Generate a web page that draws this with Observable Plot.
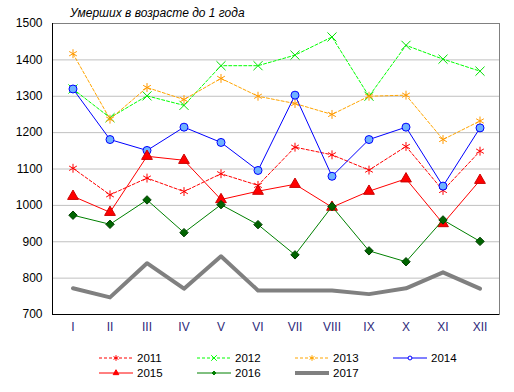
<!DOCTYPE html>
<html>
<head>
<meta charset="utf-8">
<script src="https://cdn.jsdelivr.net/npm/d3@7"></script>
<script src="https://cdn.jsdelivr.net/npm/@observablehq/plot@0.6"></script>
<style>
  html, body { margin: 0; padding: 0; background: #fff; }
  #wrap { position: relative; width: 514px; height: 392px; font-family: Arial, "Liberation Sans", sans-serif; }
  #title { position: absolute; left: 70px; top: 6px; font-size: 12px; font-style: italic; color: #000; white-space: nowrap; }
  #legend { position: absolute; left: 0; top: 340px; width: 514px; height: 52px; }
  .item { position: absolute; display: flex; align-items: center; font-size: 11.5px; color: #000; }
  .item svg { margin-right: 3px; }
</style>
</head>
<body>
<div id="wrap">
  <div id="chart"></div>
  <div id="title">Умерших в возрасте до 1 года</div>
  <div id="legend"></div>
</div>
<script>
const months = ["I","II","III","IV","V","VI","VII","VIII","IX","X","XI","XII"];
const yTicks = [700, 800, 900, 1000, 1100, 1200, 1300, 1400, 1500];

const v2011 = [1102, 1029, 1075, 1038, 1087, 1055, 1160, 1139, 1097, 1162, 1041, 1149];
const v2012 = [1320, 1241, 1301, 1275, 1384, 1384, 1413, 1463, 1300, 1440, 1402, 1369];
const v2013 = [1417, 1237, 1324, 1291, 1349, 1300, 1280, 1250, 1300, 1303, 1181, 1232];
const v2014 = [1320, 1181, 1151, 1215, 1173, 1096, 1303, 1080, 1181, 1215, 1053, 1213];
const v2015 = [1025, 981, 1135, 1124, 1016, 1039, 1058, 995, 1039, 1073, 950, 1069];
const v2016 = [973, 948, 1015, 925, 1002, 947, 864, 997, 875, 845, 960, 901];
const v2017 = [772, 747, 841, 771, 860, 766, 766, 766, 756, 772, 816, 771];

const seriesNames = ["2011","2012","2013","2014","2015","2016","2017"];
const seriesValues = [v2011, v2012, v2013, v2014, v2015, v2016, v2017];

const styles = {
  "2011": {stroke: "#ff0000", dash: "3,2", width: 1, symbol: "asterisk", fill: "none", r: 4.2, mstroke: "#ff0000"},
  "2012": {stroke: "#00ff00", dash: "3,2", width: 1, symbol: "times", fill: "none", r: 4.2, mstroke: "#00e000"},
  "2013": {stroke: "#ffa500", dash: "3,2", width: 1, symbol: "asterisk", fill: "none", r: 4.2, mstroke: "#ff9900"},
  "2014": {stroke: "#0000ff", dash: null, width: 1, symbol: "circle", fill: "#6fb2ff", r: 4, mstroke: "#0000ff"},
  "2015": {stroke: "#ff0000", dash: null, width: 1, symbol: "triangle", fill: "#ff0000", r: 4, mstroke: "#cc0000"},
  "2016": {stroke: "#008000", dash: null, width: 1, symbol: "diamond2", fill: "#006400", r: 3.8, mstroke: "#004000"},
  "2017": {stroke: "#808080", dash: null, width: 4, symbol: null}
};

const rows = seriesNames.map((name, i) => months.map((m, j) => ({series: name, month: m, value: seriesValues[i][j]})));

const marks = [
  Plot.gridY(yTicks, {stroke: "#c0c0c0", strokeOpacity: 1}),
  Plot.frame({stroke: "#808080"}),
  Plot.axisY(yTicks, {tickSize: 0, tickPadding: 10, fontSize: 12, fill: "#000", label: null, tickFormat: d3.format("d")}),
  Plot.axisX({tickSize: 0, tickPadding: 8, fontSize: 12, fill: "#2e2a7a", label: null}),
  Plot.ruleY([700], {stroke: "#000"})
];
try { marks.push(Plot.frame({anchor: "left", stroke: "#000"})); } catch (e) {}

seriesNames.forEach((name, i) => {
  const s = styles[name];
  marks.push(Plot.line(rows[i], {x: "month", y: "value", stroke: s.stroke, strokeWidth: s.width, strokeDasharray: s.dash || undefined, strokeLinejoin: "round"}));
  if (s.symbol) {
    marks.push(Plot.dot(rows[i], {x: "month", y: "value", symbol: s.symbol, r: s.r, fill: s.fill, stroke: s.mstroke, strokeWidth: 1}));
  }
});

const chart = Plot.plot({
  width: 514,
  height: 340,
  marginLeft: 52,
  marginRight: 15,
  marginTop: 23,
  marginBottom: 26,
  style: {fontFamily: "Arial, 'Liberation Sans', sans-serif", background: "#fff"},
  x: {type: "band", domain: months, padding: 0, axis: null},
  y: {domain: [700, 1500], axis: null},
  marks
});
document.getElementById("chart").appendChild(chart);

// Legend
const legendPos = [
  ["2011", 99, 358], ["2012", 197, 358], ["2013", 295, 358], ["2014", 393, 358],
  ["2015", 99, 373], ["2016", 197, 373], ["2017", 295, 373]
];
const symMap = {asterisk: d3.symbolAsterisk, times: d3.symbolTimes, circle: d3.symbolCircle, triangle: d3.symbolTriangle, diamond2: d3.symbolDiamond2};
const legend = document.getElementById("legend");
legendPos.forEach(([name, x, y]) => {
  const s = styles[name];
  const div = document.createElement("div");
  div.className = "item";
  div.style.left = x + "px";
  div.style.top = (y - 340 - 8) + "px";
  const svg = d3.create("svg").attr("width", 35).attr("height", 16);
  svg.append("line").attr("x1", 0).attr("x2", 34).attr("y1", 8).attr("y2", 8)
    .attr("stroke", s.stroke).attr("stroke-width", s.width)
    .attr("stroke-dasharray", s.dash || null);
  if (s.symbol) {
    const size = s.symbol === "circle" ? 12 : (s.symbol === "triangle" ? 14 : (s.symbol === "diamond2" ? 10 : 22));
    svg.append("path").attr("transform", "translate(17,8)")
      .attr("d", d3.symbol(symMap[s.symbol], size)())
      .attr("fill", s.fill === "none" ? "none" : (s.symbol === "circle" ? "#fff" : s.stroke))
      .attr("stroke", s.stroke).attr("stroke-width", 1);
  }
  div.appendChild(svg.node());
  const span = document.createElement("span");
  span.textContent = name;
  div.appendChild(span);
  legend.appendChild(div);
});
</script>
</body>
</html>
